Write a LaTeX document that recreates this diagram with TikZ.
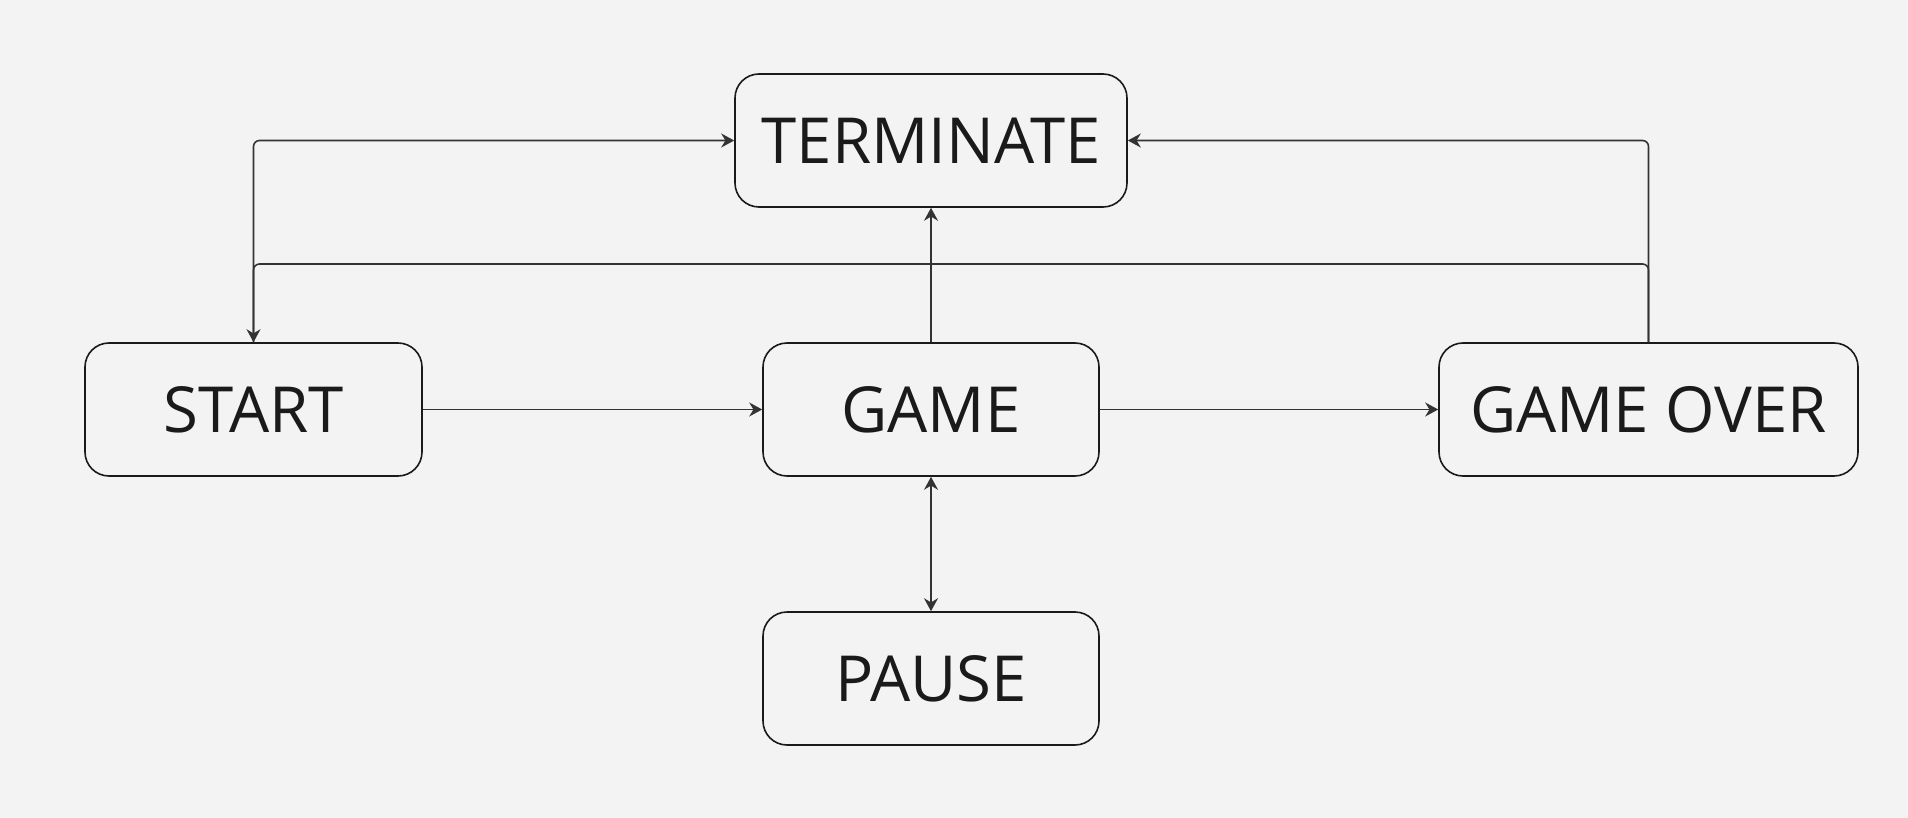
\documentclass[tikz,border=0pt]{standalone}
\usepackage{fontspec}
\setmainfont{Open Sans}
\usetikzlibrary{arrows.meta, positioning}
\definecolor{bgcol}{HTML}{F3F3F3}
\definecolor{linecol}{HTML}{333333}
\definecolor{textcol}{HTML}{1A1A1A}

\begin{document}
\begin{tikzpicture}[
        x=1pt, y=-1pt,
        state/.style={draw=textcol, rounded corners=24pt, line width=1.6pt, inner sep=0pt,
            minimum height=133pt, text=textcol, font=\fontsize{63.5}{75}\selectfont},
        arrow/.style={-{Stealth[length=13pt, width=14pt]}, line width=1.6pt, draw=linecol, rounded corners=6pt}
    ]
        % Background
        \fill[bgcol] (0,0) rectangle (1908,818);
        \useasboundingbox (0,0) rectangle (1908,818);

        % States
        \node[state, minimum width=392pt] (terminate) at (931,140.5) {TERMINATE};
        \node[state, minimum width=337pt] (start) at (253.5,409.5) {START};
        \node[state, minimum width=336pt] (game) at (931,409.5) {GAME};
        \node[state, minimum width=419pt] (gameover) at (1648.5,409.5) {GAME OVER};
        \node[state, minimum width=336pt] (pause) at (931,678.5) {PAUSE};

        % Level of the return line
        \coordinate (back) at (0,264);

        % Transitions
        \draw[arrow] (start.east) -- (game.west);
        \draw[arrow] (game.east) -- (gameover.west);
        \draw[arrow] (game.north) -- (terminate.south);
        \draw[arrow] (start.north) |- (terminate.west);
        \draw[arrow] (gameover.north) |- (terminate.east);
        \draw[arrow] (gameover.north) -- (gameover.north |- back) -- (start.north |- back) -- (start.north);
        \draw[arrow, {Stealth[length=13pt, width=14pt]}-{Stealth[length=13pt, width=14pt]}] (game.south) -- (pause.north);
    \end{tikzpicture}
\end{document}
